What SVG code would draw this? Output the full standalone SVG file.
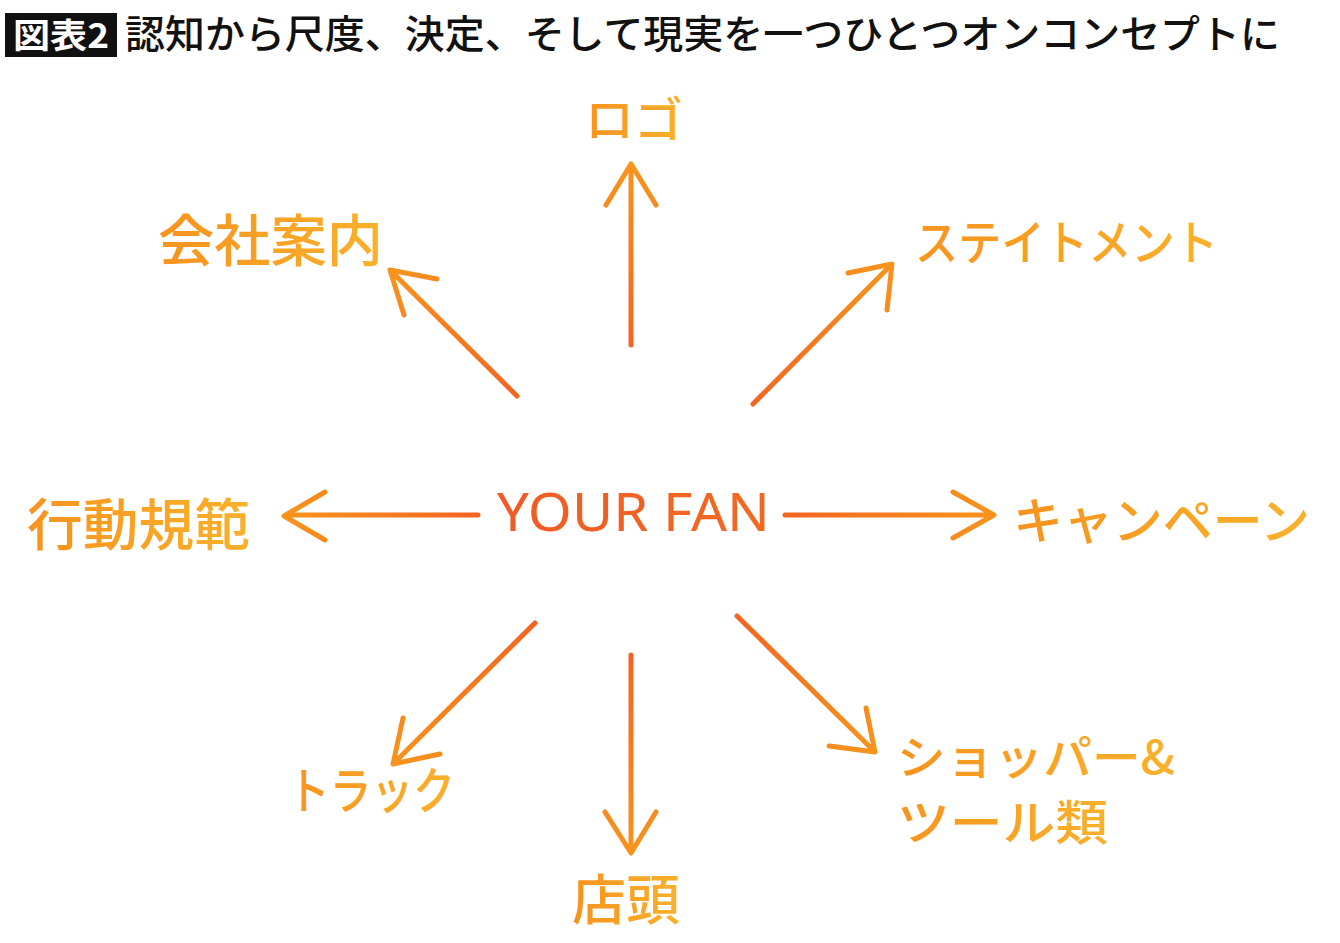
<svg xmlns="http://www.w3.org/2000/svg" width="1340" height="943" viewBox="0 0 1340 943">
<defs>
<linearGradient id="lbl" x1="0" y1="0" x2="1" y2="0">
<stop offset="0" stop-color="#f7931e"/>
<stop offset="1" stop-color="#f9b12b"/>
</linearGradient>
<linearGradient id="fan" x1="0" y1="0" x2="1" y2="0">
<stop offset="0" stop-color="#f15a24"/>
<stop offset="1" stop-color="#f26a21"/>
</linearGradient>
<linearGradient id="gU" gradientUnits="userSpaceOnUse" x1="631" y1="345" x2="631" y2="165"><stop offset="0" stop-color="#f26522"/><stop offset="1" stop-color="#f7941d"/></linearGradient>
<linearGradient id="gUL" gradientUnits="userSpaceOnUse" x1="517" y1="396" x2="390" y2="270"><stop offset="0" stop-color="#f26522"/><stop offset="1" stop-color="#f7941d"/></linearGradient>
<linearGradient id="gUR" gradientUnits="userSpaceOnUse" x1="753" y1="404" x2="892" y2="264"><stop offset="0" stop-color="#f26522"/><stop offset="1" stop-color="#f7941d"/></linearGradient>
<linearGradient id="gL" gradientUnits="userSpaceOnUse" x1="478" y1="515" x2="284" y2="515"><stop offset="0" stop-color="#f26522"/><stop offset="1" stop-color="#f7941d"/></linearGradient>
<linearGradient id="gR" gradientUnits="userSpaceOnUse" x1="785" y1="515" x2="994" y2="515"><stop offset="0" stop-color="#f26522"/><stop offset="1" stop-color="#f7941d"/></linearGradient>
<linearGradient id="gDL" gradientUnits="userSpaceOnUse" x1="535" y1="623" x2="393" y2="764"><stop offset="0" stop-color="#f26522"/><stop offset="1" stop-color="#f7941d"/></linearGradient>
<linearGradient id="gD" gradientUnits="userSpaceOnUse" x1="631" y1="655" x2="631" y2="853"><stop offset="0" stop-color="#f26522"/><stop offset="1" stop-color="#f7941d"/></linearGradient>
<linearGradient id="gDR" gradientUnits="userSpaceOnUse" x1="737" y1="616" x2="875" y2="752"><stop offset="0" stop-color="#f26522"/><stop offset="1" stop-color="#f7941d"/></linearGradient>
</defs>
<style>
.title{font-family:"Noto Sans CJK JP","Noto Sans",sans-serif;font-size:39px;font-weight:500;fill:#111;}
.tag{font-family:"Noto Sans CJK JP","Noto Sans",sans-serif;font-size:34px;font-weight:bold;fill:#fff;}
.lbl{font-family:"Noto Sans CJK JP","Noto Sans",sans-serif;font-weight:500;fill:url(#lbl);}
.fan{font-family:"Noto Sans","Open Sans",sans-serif;font-size:52px;fill:url(#fan);}
.ar{fill:none;stroke-width:5;stroke-linecap:round;stroke-linejoin:round;}
</style>
<rect width="1340" height="943" fill="#fff"/>
<g id="title">
<rect x="5" y="13" width="112" height="44" fill="#111"/>
<text class="tag" x="61" y="48" text-anchor="middle" textLength="96" lengthAdjust="spacingAndGlyphs">図表2</text>
<text class="title" x="125" y="48" textLength="1155" lengthAdjust="spacingAndGlyphs">認知から尺度、決定、そして現実を一つひとつオンコンセプトに</text>
</g>
<g id="connectors">
<path class="ar" stroke="url(#gU)" d="M631,345 L631,166 M606,205 L631,164 L656,205"/>
<path class="ar" stroke="url(#gUL)" d="M517,396 L392,272 M404,315 L390,270 L437,279"/>
<path class="ar" stroke="url(#gUR)" d="M753,404 L890,266 M848,273 L892,264 L887,310"/>
<path class="ar" stroke="url(#gL)" d="M478,515 L286,515 M325,492 L284,516 L325,540"/>
<path class="ar" stroke="url(#gR)" d="M785,515 L992,515 M953,492 L994,515 L953,538"/>
<path class="ar" stroke="url(#gDL)" d="M535,623 L395,762 M403,718 L393,764 L440,754"/>
<path class="ar" stroke="url(#gD)" d="M631,655 L631,851 M605,812 L631,853 L656,812"/>
<path class="ar" stroke="url(#gDR)" d="M737,616 L873,750 M829,746 L875,752 L866,708"/>
</g>
<g id="center"><text class="fan" x="497" y="531" textLength="273" lengthAdjust="spacingAndGlyphs">YOUR FAN</text></g>
<g id="logo"><text class="lbl" x="585" y="137" font-size="48" textLength="98" lengthAdjust="spacingAndGlyphs">ロゴ</text></g>
<g id="company"><text class="lbl" x="158" y="261" font-size="56" textLength="225" lengthAdjust="spacingAndGlyphs">会社案内</text></g>
<g id="statement"><text class="lbl" x="915" y="260" font-size="48" textLength="303" lengthAdjust="spacingAndGlyphs">ステイトメント</text></g>
<g id="code"><text class="lbl" x="27" y="545" font-size="56" textLength="223" lengthAdjust="spacingAndGlyphs">行動規範</text></g>
<g id="campaign"><text class="lbl" x="1013" y="539" font-size="50" textLength="297" lengthAdjust="spacingAndGlyphs">キャンペーン</text></g>
<g id="truck"><text class="lbl" x="288" y="809" font-size="50" textLength="167" lengthAdjust="spacingAndGlyphs">トラック</text></g>
<g id="store"><text class="lbl" x="572" y="920" font-size="54" textLength="108" lengthAdjust="spacingAndGlyphs">店頭</text></g>
<g id="shopper">
<text class="lbl" x="897" y="774" font-size="46" textLength="278" lengthAdjust="spacingAndGlyphs">ショッパー&amp;</text>
<text class="lbl" x="897" y="840" font-size="48" textLength="211" lengthAdjust="spacingAndGlyphs">ツール類</text>
</g>
</svg>
